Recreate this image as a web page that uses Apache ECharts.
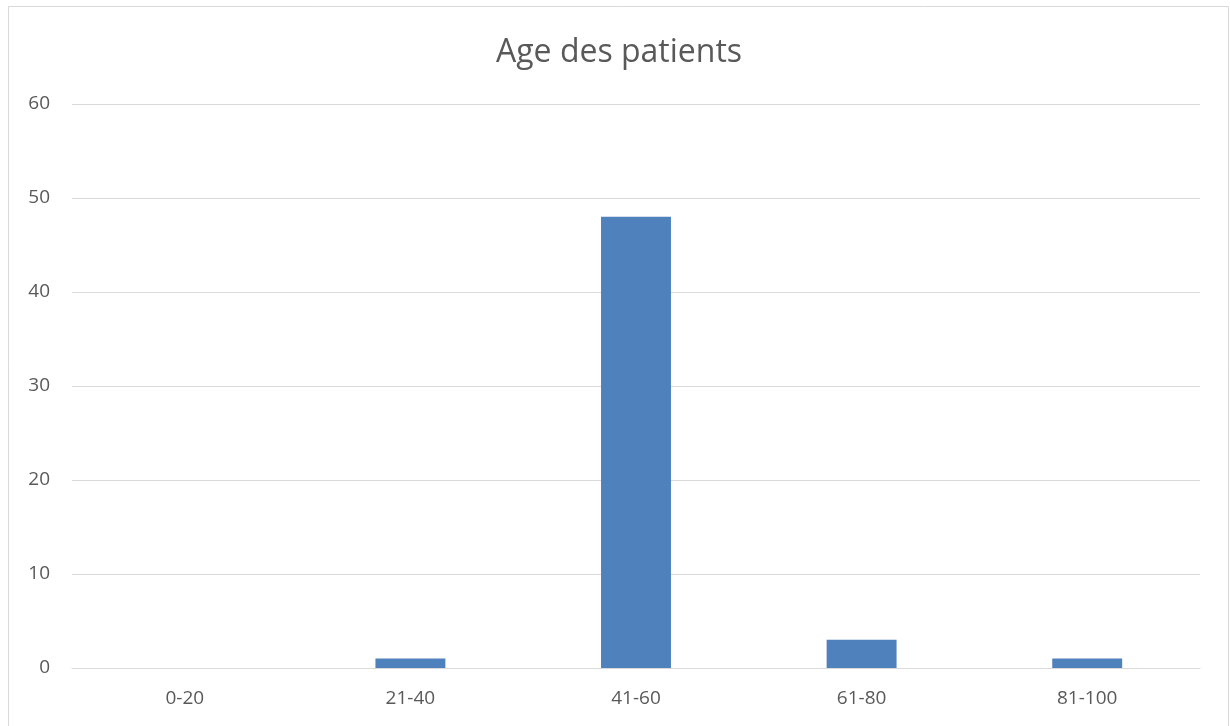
<!DOCTYPE html>
<html>
<head>
<meta charset="utf-8">
<script src="https://cdn.jsdelivr.net/npm/echarts@6/dist/echarts.min.js"></script>
<style>
  html, body { margin: 0; padding: 0; background: #fff; }
  #chart { width: 1230px; height: 726px; }
</style>
</head>
<body>
<div id="chart"></div>
<script>
// Age groups and patient counts
const categories = ['0-20', '21-40', '41-60', '61-80', '81-100'];
const patients = [0, 1, 48, 3, 1];
const titleText = 'Age des patients';

const textColor = '#595959';
const gridColor = '#d9d9d9';
const fontFamily = '"Open Sans", "Noto Sans", sans-serif';

const chart = echarts.init(document.getElementById('chart'), null, { renderer: 'canvas' });
chart.setOption({
  backgroundColor: '#ffffff',
  animation: false,
  title: {
    text: titleText,
    left: 491,
    top: 32,
    textStyle: { color: textColor, fontSize: 32, fontWeight: 'normal', fontFamily: fontFamily }
  },
  graphic: [{
    type: 'rect',
    shape: { x: 8.5, y: 6.5, width: 1220, height: 740 },
    style: { fill: 'none', stroke: gridColor, lineWidth: 1 },
    silent: true
  }],
  grid: { left: 72, right: 30, top: 104, bottom: 58, containLabel: false },
  xAxis: {
    type: 'category',
    data: categories,
    axisLine: { show: true, lineStyle: { color: gridColor, width: 1 } },
    axisTick: { show: false },
    axisLabel: { color: textColor, fontSize: 19, fontFamily: fontFamily, margin: 21 }
  },
  yAxis: {
    type: 'value',
    min: 0,
    max: 60,
    interval: 10,
    axisLine: { show: false },
    axisTick: { show: false },
    splitLine: { lineStyle: { color: gridColor, width: 1 } },
    axisLabel: { color: textColor, fontSize: 19, fontFamily: fontFamily, margin: 22 }
  },
  series: [{
    type: 'bar',
    data: patients,
    barWidth: '31%',
    itemStyle: { color: '#4f81bd' }
  }]
});
</script>
</body>
</html>
